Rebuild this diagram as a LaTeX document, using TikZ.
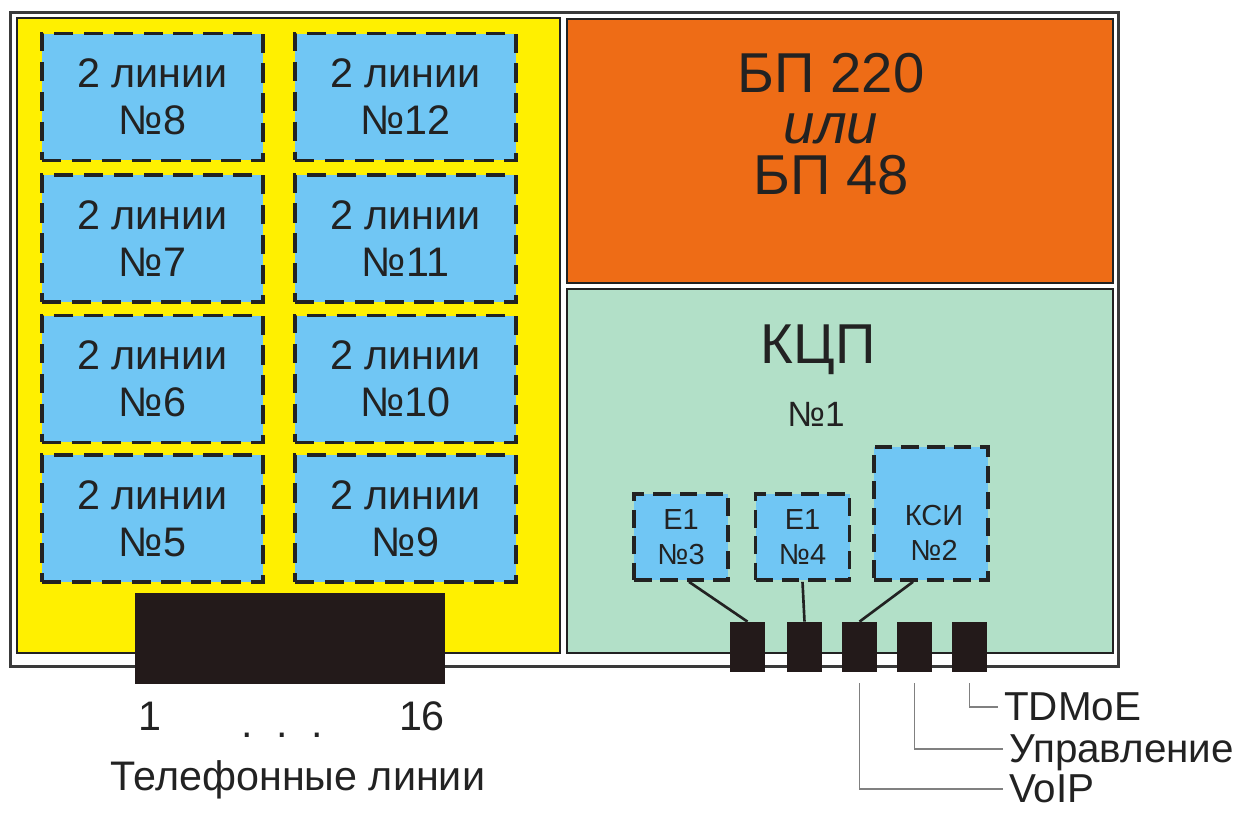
\documentclass[tikz,border=0pt]{standalone}
\usepackage{fontspec}
\setmainfont{Liberation Sans}
\usetikzlibrary{positioning}

\definecolor{panelyellow}{RGB}{255,240,0}
\definecolor{panelorange}{RGB}{238,108,22}
\definecolor{panelgreen}{RGB}{178,224,200}
\definecolor{boxblue}{RGB}{112,198,244}
\definecolor{framegray}{RGB}{58,58,58}
\definecolor{inkcol}{RGB}{34,34,34}
\definecolor{portblack}{RGB}{35,26,26}

\tikzset{
  panel/.style={draw=inkcol, line width=1.1pt},
  linebox/.style={draw=inkcol, fill=boxblue, line width=2.1pt, dash pattern=on 11pt off 6pt,
    minimum width=4.42cm, minimum height=2.54cm, inner sep=0pt, align=center, text=inkcol,
    font=\fontsize{23.5}{26.7}\selectfont},
  smallbox/.style={draw=inkcol, fill=boxblue, line width=2.1pt, dash pattern=on 10pt off 5pt,
    inner sep=0pt, align=center, text=inkcol, font=\fontsize{16.5}{20}\selectfont},
  port/.style={fill=portblack, minimum width=0.7cm, minimum height=1cm, inner sep=0pt},
  wire/.style={draw=inkcol, line width=1.5pt},
  leader/.style={draw=gray, line width=0.9pt},
  portlabel/.style={anchor=west, text=inkcol, text depth=0pt, inner ysep=0.5pt,
    font=\fontsize{23}{27}\selectfont},
  caption/.style={anchor=base, text=inkcol, font=\fontsize{23.5}{27}\selectfont}
}

\begin{document}
\begin{tikzpicture}[x=0.02cm,y=-0.02cm]
  \useasboundingbox (0,0) rectangle (1244,814);
  % case
  \draw[line width=1.7pt, draw=framegray, fill=white] (10.5,12.5) rectangle (1118.5,666.5);
  \draw[panel, fill=panelyellow] (17,18) rectangle (560,653);
  \draw[panel, fill=panelorange] (567,19) rectangle (1113,283);
  \draw[panel, fill=panelgreen] (567,289) rectangle (1113,653);

  % line cards
  \node[linebox] (l8) at (152.5,97) {2 линии\\№8};
  \node[linebox] (l7) at (152.5,238.5) {2 линии\\№7};
  \node[linebox] (l6) at (152.5,379) {2 линии\\№6};
  \node[linebox] (l5) at (152.5,518.5) {2 линии\\№5};
  \node[linebox] (l12) at (405.5,97) {2 линии\\№12};
  \node[linebox] (l11) at (405.5,238.5) {2 линии\\№11};
  \node[linebox] (l10) at (405.5,379) {2 линии\\№10};
  \node[linebox] (l9) at (405.5,518.5) {2 линии\\№9};

  % line connector
  \node[fill=portblack, minimum width=6.2cm, minimum height=1.82cm, inner sep=0pt] (tel) at (290,638.5) {};
  \node[caption] (first) at (150,730) {1};
  \node[caption] (dots) at (282,737) {.\hspace{13.5pt}.\hspace{13.5pt}.};
  \node[caption] (last) at (422,730) {16};
  \node[caption] (telcap) at (298,790) {Телефонные линии};

  % power supply
  \node[align=center, text=inkcol, font=\fontsize{32}{29}\selectfont] (psu) at (831,124)
    {БП 220\\\textit{или}\\БП 48};

  % control board
  \node[text=inkcol, font=\fontsize{32}{36}\selectfont] (kcp) at (818,350) {КЦП};
  \node[text=inkcol, font=\fontsize{20}{24}\selectfont] (kcpnum) at (816,414) {№1};

  \node[smallbox, minimum width=1.88cm, minimum height=1.72cm] (e3) at (681,537) {E1\\№3};
  \node[smallbox, minimum width=1.88cm, minimum height=1.72cm] (e4) at (802.5,537) {E1\\№4};
  \node[smallbox, minimum width=2.28cm, minimum height=2.66cm] (ksi) at (931,513.5) {};
  \node[align=center, text=inkcol, font=\fontsize{16.5}{20}\selectfont] (ksitext) at (934,532.5) {КСИ\\№2};

  % ports
  \node[port] (p1) at (747.5,647) {};
  \node[port] (p2) at (804.5,647) {};
  \node[port] (p3) at (859.5,647) {};
  \node[port] (p4) at (914.5,647) {};
  \node[port] (p5) at (969.5,647) {};

  \draw[wire] ([xshift=0.16cm]e3.south) -- (p1.north);
  \draw[wire] (e4.south) -- (p2.north);
  \draw[wire] ([xshift=-0.36cm]ksi.south) -- (p3.north);

  % port labels
  \node[portlabel] (tdmoe) at (998,707) {TDMoE};
  \node[portlabel] (ctrl) at (1003,749) {Управление};
  \node[portlabel] (voip) at (1003,789) {VoIP};
  \draw[leader] ([yshift=-0.22cm]p5.south) |- (tdmoe.west);
  \draw[leader] ([yshift=-0.22cm]p4.south) |- (ctrl.west);
  \draw[leader] ([yshift=-0.22cm]p3.south) |- (voip.west);
\end{tikzpicture}
\end{document}
